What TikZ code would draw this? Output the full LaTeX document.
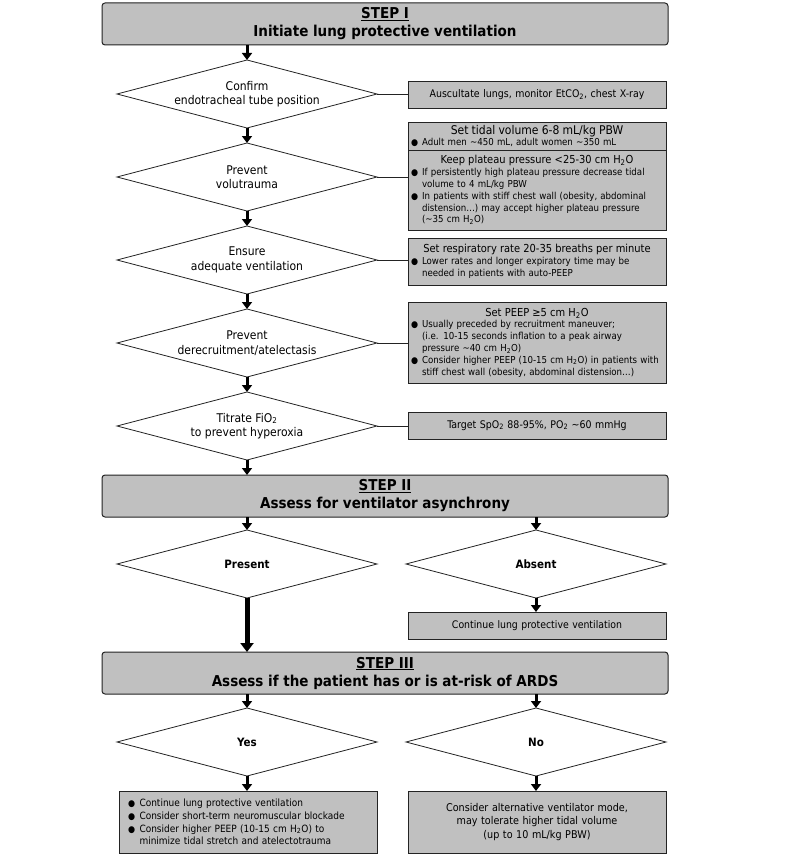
\documentclass[tikz,border=0pt]{standalone}
\usepackage{fontspec}
\setmainfont{DejaVu Sans Condensed}
\usetikzlibrary{shapes.geometric,arrows.meta}
\definecolor{boxgray}{RGB}{192,192,192}
\definecolor{edge}{RGB}{35,35,35}
\newcommand{\bul}{\makebox[1.15em][l]{\fontsize{9}{11}\selectfont ●}}
\newcommand{\ind}{\hspace*{1.15em}}
\newcommand{\hd}{\fontsize{11}{13.5}\selectfont}
\newcommand{\sub}[1]{\textsubscript{#1}}
\begin{document}
\begin{tikzpicture}[x=1pt,y=-1pt,
  stepbox/.style={draw=edge,fill=boxgray,rounded corners=3pt,line width=1pt,minimum width=566pt,minimum height=42pt,inner sep=0pt,outer sep=0pt,align=center,font=\fontsize{15}{18}\selectfont\bfseries},
  dia/.style={diamond,draw=edge,fill=white,line width=0.8pt,minimum width=260pt,minimum height=68pt,aspect=3.8,inner sep=0pt,outer sep=0pt,align=center,font=\fontsize{12}{14.5}\selectfont},
  diab/.style={dia,font=\fontsize{11.5}{14}\selectfont\bfseries},
  rbox/.style={draw=edge,fill=boxgray,line width=0.8pt,minimum width=258pt,text width=252pt,inner sep=0pt,outer sep=0pt,font=\fontsize{9.6}{11.8}\selectfont},
  arr/.style={draw=black,line width=3pt,-{Triangle[length=7pt,width=10pt]}},
  thickarr/.style={draw=black,line width=5pt,-{Triangle[length=9pt,width=13pt]}},
  conn/.style={draw=edge,line width=0.8pt}]
\useasboundingbox (0,0) rectangle (785,856);
% STEP boxes
\node[stepbox] (s1) at (385,24) {\underline{STEP I}\\Initiate lung protective ventilation};
\node[stepbox] (s2) at (385,496) {\underline{STEP II}\\Assess for ventilator asynchrony};
\node[stepbox] (s3) at (385,673) {\underline{STEP III}\\Assess if the patient has or is at-risk of ARDS};
% diamonds step I
\node[dia] (d1) at (247,94) {Confirm\\endotracheal tube position};
\node[dia] (d2) at (247,177) {Prevent\\volutrauma};
\node[dia] (d3) at (247,260) {Ensure\\adequate ventilation};
\node[dia] (d4) at (247,343) {Prevent\\derecruitment/atelectasis};
\node[dia] (d5) at (247,426) {Titrate FiO\sub{2}\\to prevent hyperoxia};
% right boxes
\node[rbox,minimum height=27pt,align=center,font=\fontsize{10.5}{12}\selectfont] (r1) at (537,94.5) {Auscultate lungs, monitor EtCO\sub{2}, chest X-ray};
\node[rbox,minimum height=28pt] (r2a) at (537,136) {{\centering\fontsize{12}{14}\selectfont Set tidal volume 6-8 mL/kg PBW\par}\raggedright\bul Adult men \textasciitilde450 mL, adult women \textasciitilde350 mL};
\node[rbox,minimum height=80pt] (r2b) at (537,190) {{\centering\hd Keep plateau pressure <25-30 cm H\sub{2}O\par}\raggedright
\bul If persistently high plateau pressure decrease tidal\\\ind volume to 4 mL/kg PBW\\
\bul In patients with stiff chest wall (obesity, abdominal\\\ind distension…) may accept higher plateau pressure\\\ind (\textasciitilde35 cm H\sub{2}O)};
\node[rbox,minimum height=47pt] (r3) at (537,261.5) {{\centering\hd Set respiratory rate 20-35 breaths per minute\par}\raggedright
\bul Lower rates and longer expiratory time may be\\\ind needed in patients with auto-PEEP};
\node[rbox,minimum height=81pt] (r4) at (537,342.5) {{\centering\hd Set PEEP ≥5 cm H\sub{2}O\par}\raggedright
\bul Usually preceded by recruitment maneuver;\\\ind (i.e. 10-15 seconds inflation to a peak airway\\\ind pressure \textasciitilde40 cm H\sub{2}O)\\
\bul \mbox{Consider higher PEEP (10-15 cm H\sub{2}O) in patients with}\\\ind stiff chest wall (obesity, abdominal distension…)};
\node[rbox,minimum height=27pt,align=center,font=\fontsize{10.5}{12}\selectfont] (r5) at (537,425.5) {Target SpO\sub{2} 88-95\%, PO\sub{2} \textasciitilde60 mmHg};
% step II
\node[diab] (pr) at (247,564) {Present};
\node[diab] (ab) at (536,564) {Absent};
\node[rbox,minimum height=27pt,align=center,font=\fontsize{10.4}{12}\selectfont] (cont) at (537,625.5) {Continue lung protective ventilation};
% step III
\node[diab] (yes) at (247,742) {Yes};
\node[diab] (no) at (536,742) {No};
\node[rbox,minimum height=62pt,font=\fontsize{10}{12.6}\selectfont,text width=240pt] (yb) at (248,822) {\raggedright
\bul Continue lung protective ventilation\\
\bul Consider short-term neuromuscular blockade\\
\bul Consider higher PEEP (10-15 cm H\sub{2}O) to\\\ind minimize tidal stretch and atelectotrauma};
\node[rbox,minimum height=62pt,align=center,font=\fontsize{10.7}{13.3}\selectfont] (nb) at (537,822) {Consider alternative ventilator mode,\\may tolerate higher tidal volume\\(up to 10 mL/kg PBW)};
% arrows
\draw[arr] (d1.north |- s1.south) -- (d1.north);
\draw[arr] (d1.south) -- (d2.north);
\draw[arr] (d2.south) -- (d3.north);
\draw[arr] (d3.south) -- (d4.north);
\draw[arr] (d4.south) -- (d5.north);
\draw[arr] (d5.south) -- (d5.south |- s2.north);
\draw[arr] (pr.north |- s2.south) -- (pr.north);
\draw[arr] (ab.north |- s2.south) -- (ab.north);
\draw[arr] (ab.south) -- (ab.south |- cont.north);
\draw[thickarr] (pr.south) -- (pr.south |- s3.north);
\draw[arr] (yes.north |- s3.south) -- (yes.north);
\draw[arr] (no.north |- s3.south) -- (no.north);
\draw[arr] (yes.south) -- (yes.south |- yb.north);
\draw[arr] (no.south) -- (no.south |- nb.north);
% connectors
\draw[conn] (d1.east) -- (d1.east -| r1.west);
\draw[conn] (d2.east) -- (d2.east -| r2b.west);
\draw[conn] (d3.east) -- (d3.east -| r3.west);
\draw[conn] (d4.east) -- (d4.east -| r4.west);
\draw[conn] (d5.east) -- (d5.east -| r5.west);
\end{tikzpicture}
\end{document}
